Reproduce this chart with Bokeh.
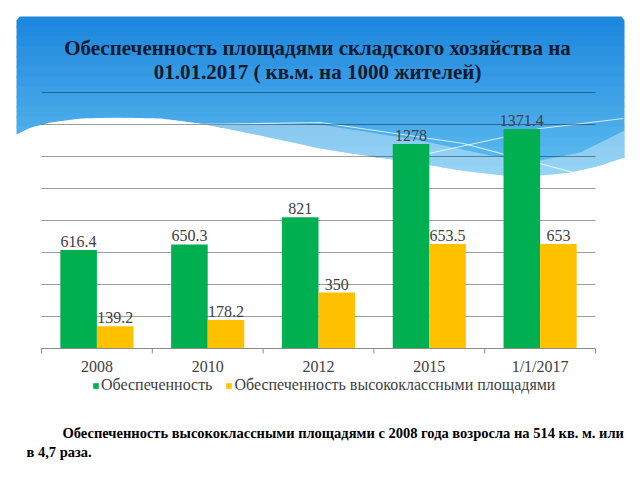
import numpy as np
from bokeh.plotting import figure
from bokeh.models import (ColumnDataSource, Range1d, Legend, LegendItem, Label, PolyAnnotation)
from bokeh.transform import dodge
from bokeh.core.properties import value
from bokeh.embed import file_html
from bokeh.resources import INLINE

# ---------------- data ----------------
categories = ["2008", "2010", "2012", "2015", "1/1/2017"]
provision = [616.4, 650.3, 821.0, 1278.0, 1371.4]
provision_high = [139.2, 178.2, 350.0, 653.5, 653.0]
series_names = ["Обеспеченность", "Обеспеченность высококлассными площадями"]
grid_values = [200, 400, 600, 800, 1000, 1200, 1400, 1600]
title_lines = ["Обеспеченность площадями складского хозяйства на",
               "01.01.2017 ( кв.м. на 1000 жителей)"]
caption_lines = ["Обеспеченность высококлассными площадями с 2008 года возросла на 514 кв. м. или",
                 "в 4,7 раза."]

# ---------------- layout (canvas px) ----------------
W, H = 640, 480
FL, FR, FT, FB = 41, 595, 92, 348      # chart area: x of index 0..n, y of 1600..0
Y_TOP_VAL = 1600
SERIF = "Liberation Serif"
GREEN = "#00b050"
YELLOW = "#ffc000"
LABEL_C = "#404040"
AXIS_C = "#8c8c8c"

n_cat = len(categories)
sx = (FR - FL) / n_cat
sy = (FB - FT) / Y_TOP_VAL
p = figure(width=W, height=H,
           x_range=Range1d(-FL / sx, n_cat + (W - FR) / sx),
           y_range=Range1d(-(H - FB) / sy, FB / sy),
           output_backend="svg", toolbar_location=None,
           x_axis_location=None, y_axis_location=None,
           min_border=0, min_border_left=0, min_border_right=0, min_border_top=0, min_border_bottom=0,
           outline_line_color=None, background_fill_color="white", border_fill_color="white")
p.xgrid.visible = False
p.ygrid.visible = False
p.extra_x_ranges = {"px": Range1d(0, W)}   # canvas-pixel x for decoration
p.extra_y_ranges = {"py": Range1d(H, 0)}   # canvas-pixel y for decoration / axis

# ---------------- decorative header (blue wave) ----------------
BX0, BX1, BY0 = 16, 624, 16

def W1(x):
    xs = [16, 30, 50, 80, 117, 160, 200, 260, 320, 370, 420, 460, 503, 540, 570, 600, 624]
    ys = [134, 127, 122, 118, 117, 118, 123, 135, 148, 156, 163, 170, 175, 175, 172, 165, 157]
    return np.interp(x, xs, ys)

def G(x):
    xs = [200, 320, 420, 490, 540, 580, 624]
    ys = [123, 124, 140, 155, 160, 152, 130]
    g = np.interp(x, xs, ys)
    return np.where(x < 200, W1(x), np.minimum(g, W1(x)))

def top_edge(x, y0):
    # rounded upper corners (radius 4)
    r = 4.0
    d = np.minimum(x - BX0, BX1 - x)
    corner = np.where(d < r, BY0 + r - np.sqrt(np.maximum(r * r - (r - d) ** 2, 0)), BY0)
    return np.maximum(y0, corner)

def poly(top_fn, bot_fn, xa=BX0, xb=BX1, n=200):
    x = np.linspace(xa, xb, n)
    top = top_fn(x)
    bot = np.maximum(bot_fn(x), top)
    if np.all(bot - top < 0.05):
        return None
    return list(np.concatenate([x, x[::-1]])), list(np.concatenate([top, bot[::-1]]))

c0 = np.array([28, 134, 222])
c1 = np.array([96, 190, 240])
nb = 16
edges = np.linspace(BY0, 176, nb + 1)
for k in range(nb):
    y0, y1 = edges[k], edges[k + 1] + 1
    t = (k + 0.5) / nb
    col = "#%02x%02x%02x" % tuple(int(v) for v in (c0 * (1 - t) + c1 * t))
    pr = poly(lambda x, y0=y0: top_edge(x, y0), lambda x, y1=y1: np.minimum(y1, W1(x)))
    if pr:
        p.add_layout(PolyAnnotation(xs=pr[0], ys=pr[1], xs_units="canvas", ys_units="canvas",
                                    fill_color=col, fill_alpha=1, line_color=None, level="image"))
pr = poly(G, W1)
p.add_layout(PolyAnnotation(xs=pr[0], ys=pr[1], xs_units="canvas", ys_units="canvas",
                            fill_color="white", fill_alpha=0.35, line_color=None, level="image"))

# thin white decorative lines in the wave
p.line([200, 320, 463, 573], [124, 122, 143, 172], x_range_name="px", y_range_name="py",
       line_color="white", line_alpha=0.75, line_width=1.2, level="underlay")
p.line([428, 502, 540, 623], [153, 137, 128, 118], x_range_name="px", y_range_name="py",
       line_color="white", line_alpha=0.75, line_width=1.2, level="underlay")

# ---------------- grid ----------------
p.segment(x0=0, x1=n_cat, y0=grid_values, y1=grid_values, line_color="black", line_alpha=0.38,
          line_width=1, level="underlay")

# ---------------- bars ----------------
centers = [i + 0.5 for i in range(n_cat)]
src = ColumnDataSource(dict(pos=centers, cat=categories, a=provision, b=provision_high,
                            la=[f"{v:g}" for v in provision], lb=[f"{v:g}" for v in provision_high]))
r1 = p.vbar(x=dodge("pos", -0.165), top="a", width=0.33, source=src,
            fill_color=GREEN, line_color=None)
r2 = p.vbar(x=dodge("pos", 0.165), top="b", width=0.33, source=src,
            fill_color=YELLOW, line_color=None)
for xo, col in ((-0.165, "a"), (0.165, "b")):
    p.text(x=dodge("pos", xo), y=col, text="l" + col, source=src,
           text_align="center", text_baseline="bottom", y_offset=-3,
           text_font=value(SERIF), text_font_size="16px", text_color=LABEL_C)

# ---------------- category axis ----------------
bounds = list(range(n_cat + 1))
p.segment(x0=0, x1=n_cat, y0=0, y1=0, line_color=AXIS_C, line_width=1)
p.segment(x0=bounds, x1=bounds, y0=FB, y1=FB + 5, y_range_name="py", line_color=AXIS_C, line_width=1)
p.text(x=centers, y=[366] * n_cat, text=categories, y_range_name="py",
       text_align="center", text_baseline="middle",
       text_font=value(SERIF), text_font_size="16px", text_color=LABEL_C)

# ---------------- legend ----------------
legend = Legend(items=[LegendItem(label=series_names[0], renderers=[r1]),
                       LegendItem(label=series_names[1], renderers=[r2])],
                orientation="horizontal", location=(92, H - 394),
                glyph_width=7, glyph_height=7, label_standoff=2, spacing=13,
                padding=0, margin=0, border_line_color=None, background_fill_alpha=0,
                label_text_font=SERIF, label_text_font_size="16px", label_text_color=LABEL_C)
p.add_layout(legend, "center")

# ---------------- title & caption ----------------
for txt, yy in zip(title_lines, [47, 71]):
    p.add_layout(Label(x=317, y=yy, x_units="canvas", y_units="canvas", text=txt,
                       text_align="center", text_baseline="middle", text_font=SERIF,
                       text_font_style="bold", text_font_size="21px", text_color="#0d1a2b"))
for txt, xx, yy in zip(caption_lines, [62, 26], [432, 451]):
    p.add_layout(Label(x=xx, y=yy, x_units="canvas", y_units="canvas", text=txt,
                       text_align="left", text_baseline="middle", text_font=SERIF,
                       text_font_style="bold", text_font_size="14.5px", text_color="black"))

open("out.html", "w").write(file_html(p, INLINE))
